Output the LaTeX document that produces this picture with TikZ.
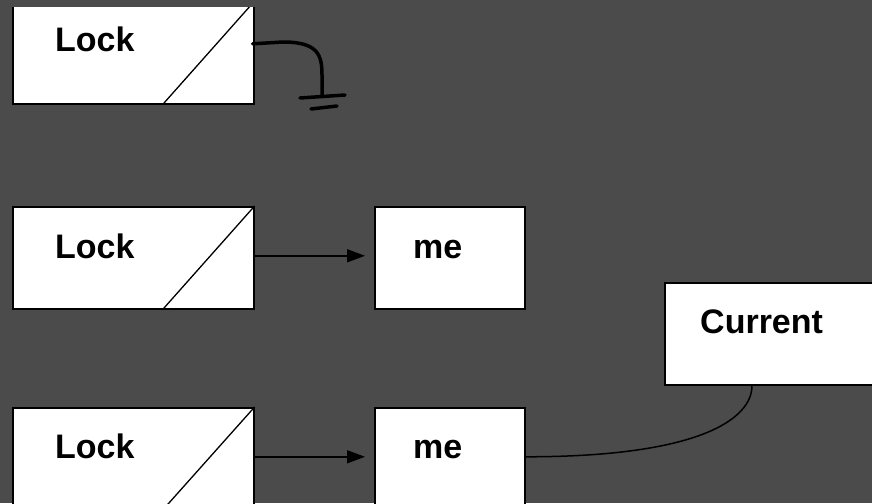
\documentclass[tikz,border=0pt]{standalone}
\usepackage{fontspec}
\setmainfont{Liberation Sans}
\usepackage{tikz}
\usetikzlibrary{positioning, arrows.meta, calc}
\definecolor{bggray}{RGB}{75,75,75}

\begin{document}
\begin{tikzpicture}[
    x=1pt, y=-1pt,
    box/.style={rectangle, draw=black, fill=white, line width=1.6pt, anchor=north west,
                minimum width=241pt, minimum height=102pt, inner sep=0pt},
    cell/.style={box, minimum width=150pt},
    lbl/.style={anchor=base west, inner sep=0pt, font=\fontsize{34}{40}\selectfont\bfseries},
    slash/.style={line width=1.3pt},
    link/.style={line width=1.5pt},
    gnd/.style={line width=3.5pt, line cap=round, line join=round},
    >={Triangle[length=18pt, width=13pt]}
]
    \fill[bggray] (0,0) rectangle (872,503);
    \useasboundingbox (0,0) rectangle (872,503);
    \clip (0,8) rectangle (872,503);

    % --- Lock grounded ---
    \node[box] (lock1) at (12,1) {};
    \node[lbl] (t1) at (55,52) {Lock};
    \draw[slash] (lock1.north east) -- ($(lock1.south east)+(-92,0)$);
    \coordinate (gtop) at (322,96);
    \draw[gnd] ($(lock1.east)+(-2,-9)$) -- (283,42)
      .. controls (318,42) and (322,55) .. (322,75) -- (gtop);
    \coordinate (ga) at (300,98);
    \coordinate (gb) at (345,95);
    \coordinate (gc) at (311,109);
    \coordinate (gd) at (337,106);
    \draw[gnd] (ga) -- (gb);
    \draw[gnd] (gc) -- (gd);

    % --- Lock -> me ---
    \node[box] (lock2) at (12,206) {};
    \node[lbl] (t2) at (55,258) {Lock};
    \draw[slash] (lock2.north east) -- ($(lock2.south east)+(-92,0)$);
    \node[cell] (me2) at (374,206) {};
    \node[lbl] (t3) at (413,258) {me};
    \draw[link, ->, shorten >=9pt] ($(lock2.east)+(0,-2)$) -- ($(me2.west)+(0,-2)$);

    % --- Lock -> me, me tied to Current ---
    \node[box] (lock3) at (12,407) {};
    \node[lbl] (t4) at (55,458) {Lock};
    \draw[slash] (lock3.north east) -- ($(lock3.north east)+(-91,102)$);
    \node[cell] (me3) at (374,407) {};
    \node[lbl] (t5) at (413,458) {me};
    \draw[link, ->, shorten >=9pt] ($(lock3.east)+(0,-2)$) -- ($(me3.west)+(0,-2)$);

    \node[box] (cur) at (664,282) {};
    \node[lbl] (t6) at (700,333) {Current};
    \draw[link] ($(me3.east)+(0,-2)$) .. controls +(175,0) and +(0,33) .. ($(cur.south west)+(88,0)$);

\end{tikzpicture}
\end{document}
